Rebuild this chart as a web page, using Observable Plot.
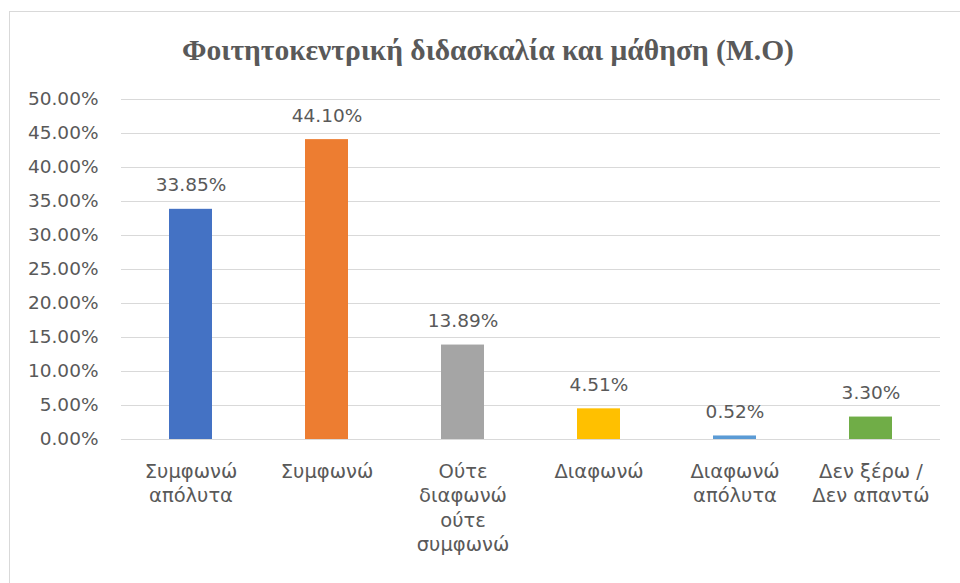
<!DOCTYPE html>
<html>
<head>
<meta charset="utf-8">
<script src="https://cdn.jsdelivr.net/npm/d3@7"></script>
<script src="https://cdn.jsdelivr.net/npm/@observablehq/plot@0.6"></script>
<style>
  html, body { margin: 0; padding: 0; background: #fff; }
  #wrap { position: relative; width: 960px; height: 583px; overflow: hidden; background: #fff; }
  #frame { position: absolute; left: 9px; top: 11px; width: 1000px; height: 700px; border: 1px solid #d9d9d9; box-sizing: border-box; }
  #title { position: absolute; left: 9px; width: 958px; top: 31px; text-align: center; font-family: "Liberation Serif", "Times New Roman", serif; font-weight: bold; font-size: 29.5px; color: #595959; line-height: 38px; }
  #chart { position: absolute; left: 0; top: 0; }
</style>
</head>
<body>
<div id="wrap">
  <div id="frame"></div>
  <div id="title">Φοιτητοκεντρική διδασκαλία και μάθηση (Μ.Ο)</div>
  <div id="chart"></div>
</div>
<script>
const categories = ["Συμφωνώ απόλυτα", "Συμφωνώ", "Ούτε διαφωνώ ούτε συμφωνώ", "Διαφωνώ", "Διαφωνώ απόλυτα", "Δεν ξέρω / Δεν απαντώ"];
const tickLabels = ["Συμφωνώ\nαπόλυτα", "Συμφωνώ", "Ούτε\nδιαφωνώ\nούτε\nσυμφωνώ", "Διαφωνώ", "Διαφωνώ\nαπόλυτα", "Δεν ξέρω /\nΔεν απαντώ"];
const values = [33.85, 44.10, 13.89, 4.51, 0.52, 3.30];
const yTicks = [0, 5, 10, 15, 20, 25, 30, 35, 40, 45, 50];
const colors = ["#4472C4", "#ED7D31", "#A5A5A5", "#FFC000", "#5B9BD5", "#70AD47"];

const data = categories.map((c, i) => ({cat: c, value: values[i]}));
const font = "'DejaVu Sans', sans-serif";
const fs = 18.5;
const fsx = 19.5;

const chart = Plot.plot({
  width: 960,
  height: 583,
  marginLeft: 121,
  marginRight: 20,
  marginTop: 99,
  marginBottom: 144,
  style: {background: "transparent", fontFamily: font, fontSize: fs + "px", color: "#595959"},
  x: {domain: categories, paddingInner: 0.685, paddingOuter: 0.3425, label: null},
  y: {domain: [0, 50], label: null},
  color: {domain: categories, range: colors},
  marks: [
    Plot.ruleY(yTicks, {stroke: "#d9d9d9", strokeWidth: 1}),
    Plot.barY(data, {x: "cat", y: "value", fill: "cat"}),
    Plot.text(data, {x: "cat", y: "value", text: d => d.value.toFixed(2) + "%", dy: -24, lineAnchor: "middle", fill: "#595959", fontSize: fs}),
    Plot.axisY({ticks: yTicks, tickSize: 0, tickPadding: 23, tickFormat: d => d.toFixed(2) + "%", fontSize: fs, fill: "#595959", label: null}),
    Plot.axisX({tickSize: 0, tickPadding: 21, tickFormat: d => tickLabels[categories.indexOf(d)], lineHeight: 1.25, fontSize: fsx, fill: "#595959", label: null})
  ]
});
document.getElementById("chart").appendChild(chart);
</script>
</body>
</html>
